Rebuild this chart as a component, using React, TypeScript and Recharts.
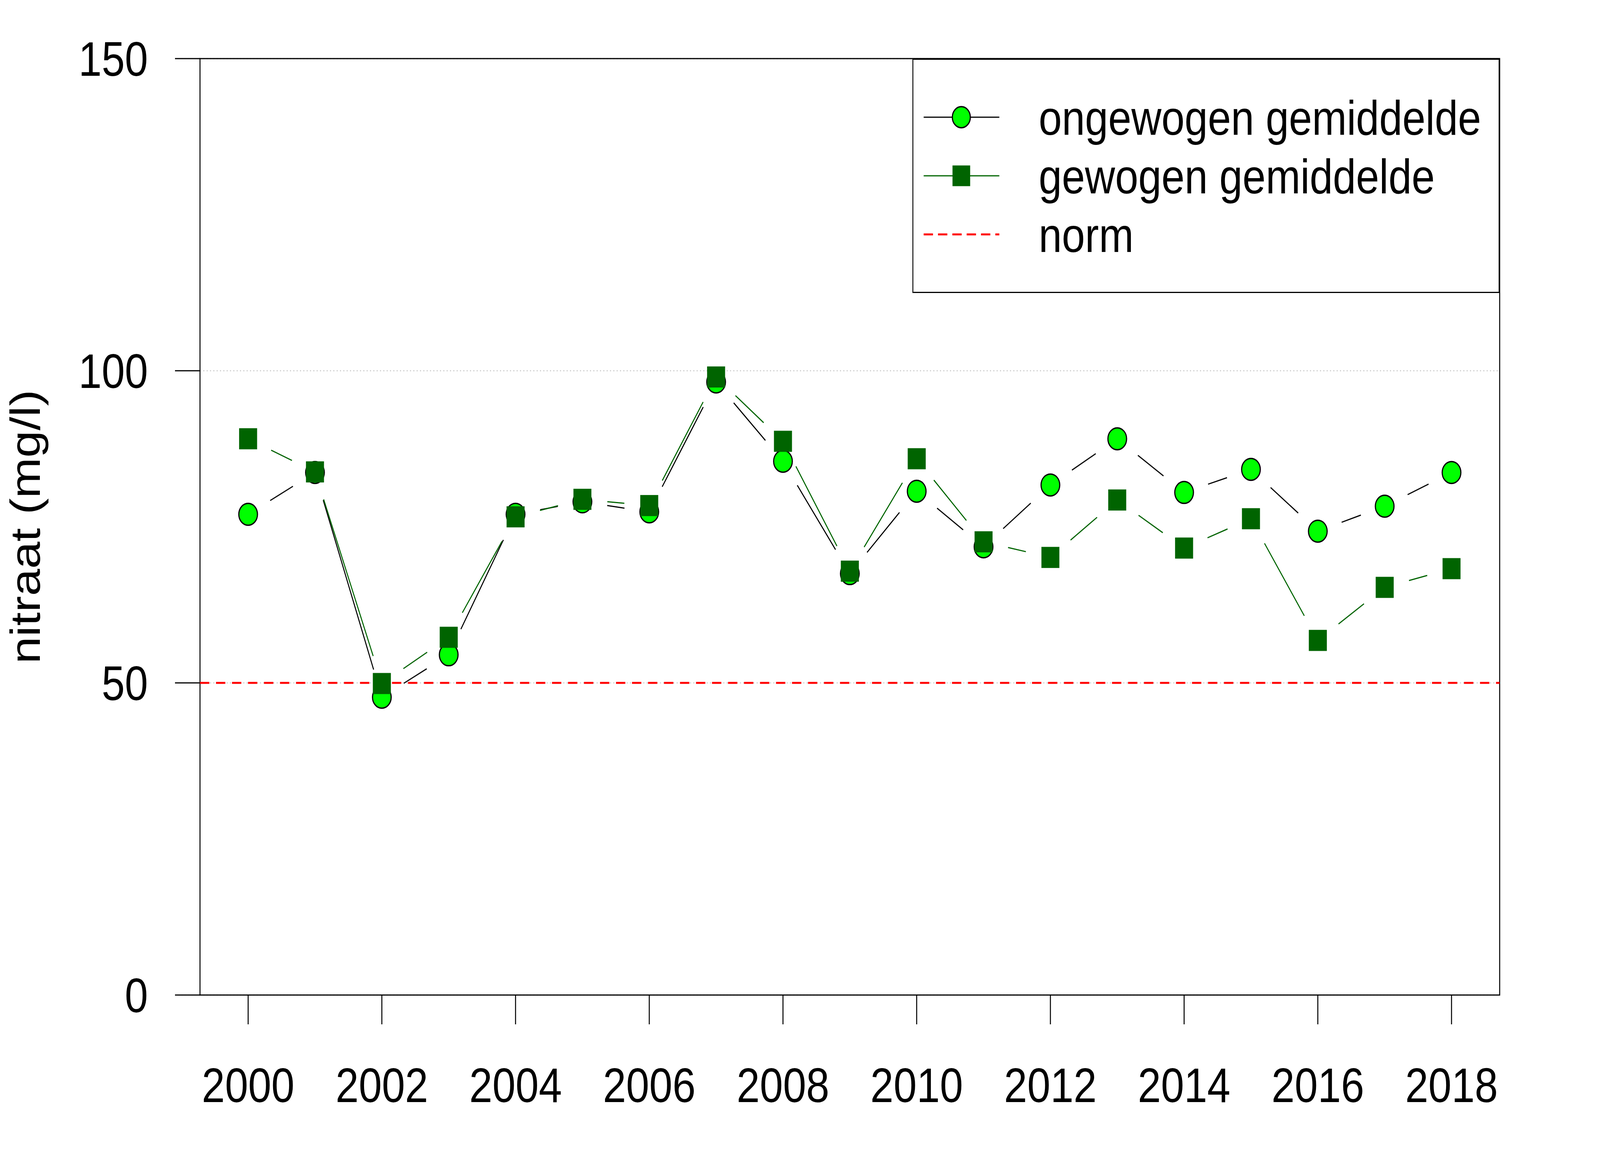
import React from 'react';
import {
  LineChart,
  Line,
  XAxis,
  YAxis,
  CartesianGrid,
  ReferenceLine,
  ReferenceArea,
  Legend,
} from 'recharts';

// ---- data ----
const years = [2000, 2001, 2002, 2003, 2004, 2005, 2006, 2007, 2008, 2009, 2010, 2011, 2012, 2013, 2014, 2015, 2016, 2017, 2018];
const ongewogen = [77.0, 83.7, 47.7, 54.5, 77.0, 79.0, 77.4, 98.2, 85.5, 67.5, 80.7, 71.8, 81.7, 89.1, 80.5, 84.2, 74.3, 78.3, 83.7];
const gewogen = [89.1, 83.8, 49.9, 57.3, 76.6, 79.4, 78.4, 99.0, 88.7, 67.9, 85.9, 72.6, 70.1, 79.3, 71.6, 76.3, 56.8, 65.3, 68.3];
const xTicks = [2000, 2002, 2004, 2006, 2008, 2010, 2012, 2014, 2016, 2018];
const yTicks = [0, 50, 100, 150];
const norm = 50;
const seriesNames = ['ongewogen gemiddelde', 'gewogen gemiddelde', 'norm'];
const yLabel = 'nitraat (mg/l)';

const data = years.map((y, i) => ({ year: y, ongewogen: ongewogen[i], gewogen: gewogen[i] }));

const FONT = '"Liberation Sans", Arial, sans-serif';
const LIGHT = '#00FF00';
const DARK = '#006400';
const GAP = 75;
const CIRCLE_R = 28;
const SQ = 53;
const W = 4800;
const H = 3000;

const makeDot = (kind: 'circle' | 'square', lineColor: string) => (props: any) => {
  const { cx, cy, index, points } = props;
  let seg: any = null;
  const next = points && points[index + 1];
  if (next && cx != null && cy != null) {
    const dx = next.x - cx;
    const dy = next.y - cy;
    const d = Math.hypot(dx, dy);
    if (d > 2 * GAP) {
      seg = (
        <line
          x1={cx + (dx / d) * GAP}
          y1={cy + (dy / d) * GAP}
          x2={next.x - (dx / d) * GAP}
          y2={next.y - (dy / d) * GAP}
          stroke={lineColor}
          strokeWidth={3}
        />
      );
    }
  }
  const marker =
    kind === 'circle' ? (
      <circle cx={cx} cy={cy} r={CIRCLE_R} fill={LIGHT} stroke="#000" strokeWidth={3.5} />
    ) : (
      <rect x={cx - SQ / 2} y={cy - SQ / 2} width={SQ} height={SQ} fill={DARK} stroke={DARK} strokeWidth={1} />
    );
  return (
    <g key={`${kind}-${index}`}>
      {seg}
      {marker}
    </g>
  );
};

const LegendBox = () => {
  const rows = [150, 300, 450];
  return (
    <svg width={1762} height={600} style={{ display: 'block' }}>
      <rect x={1.5} y={1.5} width={1759} height={597} fill="#fff" stroke="#000" strokeWidth={3} />
      <line x1={34} x2={261} y1={rows[0]} y2={rows[0]} stroke="#000" strokeWidth={3} />
      <circle cx={147} cy={rows[0]} r={27} fill={LIGHT} stroke="#000" strokeWidth={3.5} />
      <line x1={34} x2={261} y1={rows[1]} y2={rows[1]} stroke={DARK} strokeWidth={3} />
      <rect x={147 - 26.5} y={rows[1] - 26.5} width={53} height={53} fill={DARK} />
      <line x1={34} x2={261} y1={rows[2]} y2={rows[2]} stroke="#ff0000" strokeWidth={5} strokeDasharray="28 15" />
      {seriesNames.map((n, i) => (
        <text key={n} x={379} y={rows[i] + 45} fontFamily={FONT} fontSize={125} fill="#000">
          {n}
        </text>
      ))}
    </svg>
  );
};

const YTitle = (props: any) => {
  const vb = props.viewBox || { y: 150, height: 2397 };
  const cy = vb.y + vb.height / 2;
  return (
    <text
      x={120}
      y={cy}
      transform={`rotate(-90 120 ${cy})`}
      textAnchor="middle"
      fontFamily={FONT}
      fontSize={125}
      fill="#000"
    >
      {yLabel}
    </text>
  );
};

export default function App() {
  // the browser window can be narrower than 4800 px; fit the whole chart into it
  const vw = typeof window !== 'undefined' ? window.innerWidth : W;
  const vh = typeof window !== 'undefined' ? window.innerHeight : H;
  const sx = vw > 0 && vw < W ? vw / W : 1;
  const sy = vh > 0 && vh < H ? vh / H : 1;
  return (
    <div
      style={{
        position: 'absolute',
        left: 0,
        top: 0,
        width: W,
        height: H,
        background: '#fff',
        transform: `scale(${sx}, ${sy})`,
        transformOrigin: '0 0',
      }}
    >
      <LineChart width={W} height={H} data={data} margin={{ top: 150, right: 301, bottom: 0, left: 0 }}>
        <CartesianGrid vertical={false} stroke="#c8c8c8" strokeDasharray="3 7" strokeWidth={3} />
        <XAxis
          dataKey="year"
          type="number"
          domain={[1999.28, 2018.72]}
          ticks={xTicks}
          allowDataOverflow
          axisLine={false}
          tickLine={{ stroke: '#000', strokeWidth: 3 }}
          tickSize={75}
          tickMargin={110}
          height={453}
          tick={{ fontSize: 125, fontFamily: FONT, fill: '#000' }}
          interval={0}
        />
        <YAxis
          type="number"
          domain={[0, 150]}
          ticks={yTicks}
          allowDataOverflow
          axisLine={false}
          tickLine={{ stroke: '#000', strokeWidth: 3 }}
          tickSize={75}
          tickMargin={81}
          width={600}
          tick={{ fontSize: 125, fontFamily: FONT, fill: '#000' }}
          interval={0}
          label={<YTitle />}
        />
        <ReferenceLine y={norm} stroke="#ff0000" strokeWidth={5} strokeDasharray="28 20" />
        <ReferenceArea x1={1999.28} x2={2018.72} y1={0} y2={150} fill="none" fillOpacity={0} stroke="#000" strokeWidth={3} ifOverflow="visible" />
        <Line dataKey="ongewogen" stroke="none" isAnimationActive={false} activeDot={false} dot={makeDot('circle', '#000')} />
        <Line dataKey="gewogen" stroke="none" isAnimationActive={false} activeDot={false} dot={makeDot('square', DARK)} />
        <Legend
          layout="vertical"
          align="center"
          verticalAlign="middle"
          wrapperStyle={{ position: 'absolute', left: 2737, top: 150, width: 1762, height: 600, margin: 0, padding: 0 }}
          content={() => <LegendBox />}
        />
      </LineChart>
    </div>
  );
}
